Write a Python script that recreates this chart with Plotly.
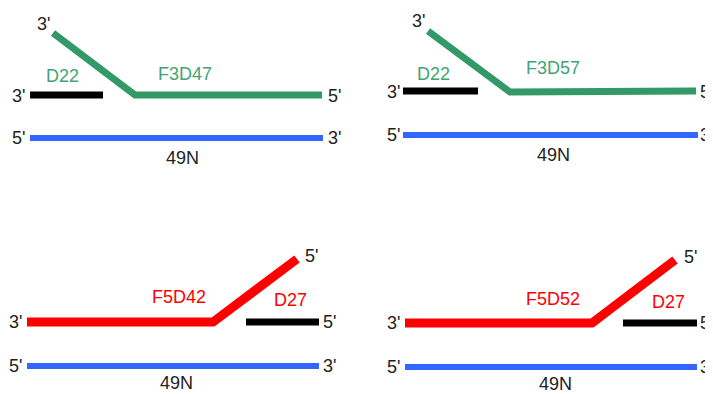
import plotly.graph_objects as go

# Strand paths (diagram coordinates, pixel-like units, y grows downward)
tl_flap_x = [53, 135, 322]
tl_flap_y = [33, 95, 95]
tl_d22_x = [30, 103]
tl_d22_y = [95, 95]
tl_temp_x = [30, 323]
tl_temp_y = [138, 138]

tr_flap_x = [428, 510, 696]
tr_flap_y = [31, 92, 91]
tr_d22_x = [403, 478]
tr_d22_y = [91, 91]
tr_temp_x = [403, 698]
tr_temp_y = [135, 135]

bl_flap_x = [27, 213, 297]
bl_flap_y = [322, 322, 259]
bl_d27_x = [246, 319]
bl_d27_y = [322, 322]
bl_temp_x = [27, 319]
bl_temp_y = [366, 366]

br_flap_x = [405, 592, 675]
br_flap_y = [323, 323, 260]
br_d27_x = [623, 697]
br_d27_y = [323, 323]
br_temp_x = [405, 697]
br_temp_y = [367, 367]

# Labels
label_text = ["3'", "D22", "F3D47", "3'", "5'", "5'", "3'", "49N",
              "3'", "D22", "F3D57", "3'", "5'", "5'", "3'", "49N",
              "5'", "F5D42", "D27", "3'", "5'", "5'", "3'", "49N",
              "5'", "F5D52", "D27", "3'", "5'", "5'", "3'", "49N"]
label_x = [43, 62, 185, 18, 334, 18, 334, 182,
           418, 433, 553, 393, 706, 393, 706, 553,
           311, 179, 290, 15, 329, 15, 329, 176,
           690, 553, 668, 393, 706, 393, 706, 555]
label_y = [24, 76, 74, 96, 96, 138, 138, 158,
           21, 74, 68, 92, 92, 135, 135, 155,
           256, 297, 300, 322, 322, 366, 366, 383,
           257, 299, 302, 323, 323, 367, 367, 384]
label_col = ["k", "g", "g", "k", "k", "k", "k", "k",
             "k", "g", "g", "k", "k", "k", "k", "k",
             "k", "r", "r", "k", "k", "k", "k", "k",
             "k", "r", "r", "k", "k", "k", "k", "k"]

GREEN = "#339966"
GREEN_TXT = "#40A572"
RED = "#FF0000"
BLUE = "#3366FF"
BLACK = "#000000"
colmap = {"k": "#222222", "g": GREEN_TXT, "r": RED}

fig = go.Figure()

def strand(x, y, color, width):
    fig.add_trace(go.Scatter(x=x, y=y, mode="lines",
                             line=dict(color=color, width=width),
                             hoverinfo="skip", showlegend=False))

strand(tl_flap_x, tl_flap_y, GREEN, 7)
strand(tl_d22_x, tl_d22_y, BLACK, 7)
strand(tl_temp_x, tl_temp_y, BLUE, 6)
strand(tr_flap_x, tr_flap_y, GREEN, 7)
strand(tr_d22_x, tr_d22_y, BLACK, 7)
strand(tr_temp_x, tr_temp_y, BLUE, 6)
strand(bl_flap_x, bl_flap_y, RED, 9)
strand(bl_d27_x, bl_d27_y, BLACK, 7)
strand(bl_temp_x, bl_temp_y, BLUE, 6)
strand(br_flap_x, br_flap_y, RED, 9)
strand(br_d27_x, br_d27_y, BLACK, 7)
strand(br_temp_x, br_temp_y, BLUE, 6)

for t, x, y, c in zip(label_text, label_x, label_y, label_col):
    fig.add_annotation(x=x, y=y, text=t, showarrow=False,
                       xanchor="center", yanchor="middle",
                       font=dict(family="Liberation Sans, Arial, sans-serif",
                                 size=18, color=colmap[c]))

# The page body has an 8px margin; map the axes so diagram units equal window pixels.
fig.update_layout(
    width=705, height=386,
    margin=dict(l=0, r=0, t=0, b=0),
    paper_bgcolor="white", plot_bgcolor="white",
    xaxis=dict(range=[8, 713], visible=False, fixedrange=True),
    yaxis=dict(range=[394, 8], visible=False, fixedrange=True),
)

fig.write_html("out.html")
